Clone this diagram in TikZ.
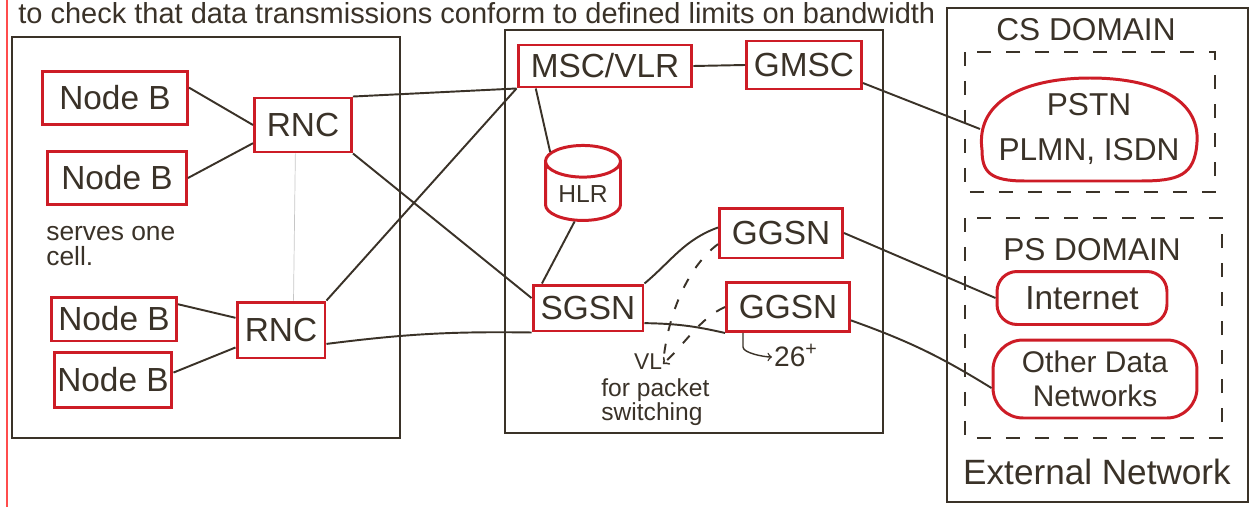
\documentclass[tikz,border=0pt]{standalone}
\usepackage{fontspec}
\setmainfont{Liberation Sans}
\usetikzlibrary{shapes.geometric}
\definecolor{inkred}{RGB}{205,28,38}
\definecolor{ink}{RGB}{58,50,40}
\begin{document}
\begin{tikzpicture}[x=0.02cm,y=-0.02cm,
  ranbox/.style={draw=inkred,line width=1.7pt,fill=white,text=ink,inner sep=1pt,font=\fontsize{19}{22}\selectfont},
  netblob/.style={draw=inkred,line width=1.7pt,fill=white,text=ink,align=center,font=\fontsize{18}{20}\selectfont},
  wire/.style={draw=ink,line width=1.1pt},
  outline/.style={draw=ink,line width=1.4pt},
  dombox/.style={draw=ink,line width=1.3pt,dash pattern=on 0.28cm off 0.3cm},
  vldash/.style={wire,dash pattern=on 0.2cm off 0.26cm},
  scribble/.style={text=ink,align=left,inner sep=0pt}]
\useasboundingbox (0,0) rectangle (1255,507);

\draw[red!70,line width=0.6pt] (7,0) -- (7,507);
\node[scribble,anchor=base west,font=\fontsize{16.5}{18}\selectfont] (topline) at (18,24)
  {to check that data transmissions conform to defined limits on bandwidth};

\draw[outline] (12,37) rectangle (400,438);
\draw[outline] (505,30) rectangle (883,433);
\draw[outline] (947,8) rectangle (1248,502);
\draw[dombox] (965,52) rectangle (1215,192);
\draw[dombox] (965,218) rectangle (1222,438);

\node[ranbox,minimum width=2.9cm,minimum height=1.06cm] (nodeb1) at (115,98) {Node B};
\node[ranbox,minimum width=2.78cm,minimum height=1.06cm] (nodeb2) at (117,178) {Node B};
\node[ranbox,minimum width=2.5cm,minimum height=0.88cm] (nodeb3) at (114,319) {Node B};
\node[ranbox,minimum width=2.36cm,minimum height=1.1cm] (nodeb4) at (113,380) {Node B};
\node[ranbox,minimum width=1.94cm,minimum height=1.08cm] (rnc1) at (303,125) {RNC};
\node[ranbox,minimum width=1.76cm,minimum height=1.12cm] (rnc2) at (281,330) {RNC};
\node[scribble,anchor=north west,font=\fontsize{15}{14}\selectfont] (serves) at (46,226) {serves one\\cell.};

\node[ranbox,minimum width=3.48cm,minimum height=0.84cm] (msc) at (605,66) {MSC/VLR};
\node[ranbox,minimum width=2.3cm,minimum height=0.96cm] (gmsc) at (804,65) {GMSC};
\node[ranbox,cylinder,shape border rotate=90,aspect=0.6,minimum width=1.5cm,minimum height=1.5cm,font=\fontsize{14}{16}\selectfont] (hlr) at (583,194) {HLR};
\node[ranbox,minimum width=2.2cm,minimum height=0.92cm] (sgsn) at (588,308) {SGSN};
\node[ranbox,minimum width=2.46cm,minimum height=1cm] (ggsn1) at (781,233) {GGSN};
\node[ranbox,minimum width=2.46cm,minimum height=0.98cm] (ggsn2) at (788,307) {GGSN};
\node[scribble,font=\fontsize{13}{14}\selectfont] (vl) at (648,362) {VL};
\node[scribble,anchor=north west,font=\fontsize{14}{13.6}\selectfont] (packet) at (601,378) {for packet\\switching};
\node[scribble,font=\fontsize{16}{18}\selectfont] (plus) at (796,355) {26\textsuperscript{+}};
\coordinate (vltip) at (663,364);
\coordinate (hooktip) at (772,357);

\node[scribble,font=\fontsize{18}{20}\selectfont] (csdom) at (1086,30) {CS DOMAIN};
\draw[netblob] (982,150) .. controls (975,98) and (1030,78) .. (1090,78)
  .. controls (1152,78) and (1200,98) .. (1197,142)
  .. controls (1195,176) and (1178,181) .. (1140,181) -- (1025,181)
  .. controls (990,181) and (982,172) .. (982,150) -- cycle;
\node[netblob,draw=none,fill=none,minimum width=4.3cm,minimum height=2.04cm] (pstn) at (1089,129) {PSTN\\[6pt]PLMN, ISDN};
\node[scribble,font=\fontsize{18}{20}\selectfont] (psdom) at (1092,250) {PS DOMAIN};
\node[netblob,rounded corners=0.4cm,minimum width=3.4cm,minimum height=1.06cm,font=\fontsize{19}{20}\selectfont] (internet) at (1082,298) {Internet};
\node[netblob,rounded corners=0.6cm,minimum width=4.08cm,minimum height=1.56cm,font=\fontsize{17}{19}\selectfont] (otherdata) at (1095,379) {Other Data\\Networks};
\node[scribble,font=\fontsize{20}{22}\selectfont] (extnet) at (1097,472) {External Network};

\draw[wire] (nodeb1.8) -- (rnc1.west);
\draw[wire] (nodeb2.east) -- (rnc1.200);
\draw[wire] (nodeb3.13) -- (rnc2.165);
\draw[wire] (nodeb4.7) -- (rnc2.201);
\draw[draw=gray!45,line width=0.4pt] (rnc1.-105) -- (rnc2.67);
\draw[wire] (rnc1.north east) -- (msc.south west);
\draw[wire] (rnc1.south east) -- (sgsn.170);
\draw[wire] (rnc2.north east) -- (msc.south west);
\draw[wire] (rnc2.-17) to[bend left=4] (sgsn.south west);
\draw[wire] (sgsn.-15) to[bend left=6] (ggsn2.south west);
\draw[wire] (msc.-162) -- (hlr.128);
\draw[wire] (hlr.-107) -- (sgsn.152);
\draw[wire] (msc.east) -- (gmsc.west);
\draw[wire] (sgsn.north east) to[out=40,in=200] (ggsn1.175);
\draw[wire] (gmsc.-17) -- (pstn.west);
\draw[wire] (ggsn1.east) -- (internet.west);
\draw[wire] (ggsn2.-12) to[bend left=6] (otherdata.-175);
\draw[vldash] (ggsn1.-170) .. controls (690,265) and (668,310) .. (vltip);
\draw[vldash,->] (ggsn2.west) .. controls (700,318) and (684,345) .. (vltip);
\draw[wire,line width=0.8pt,->] (ggsn2.-150) -- ++(0,14) .. controls +(0,6) and +(-8,0) .. (hooktip);

\end{tikzpicture}
\end{document}
